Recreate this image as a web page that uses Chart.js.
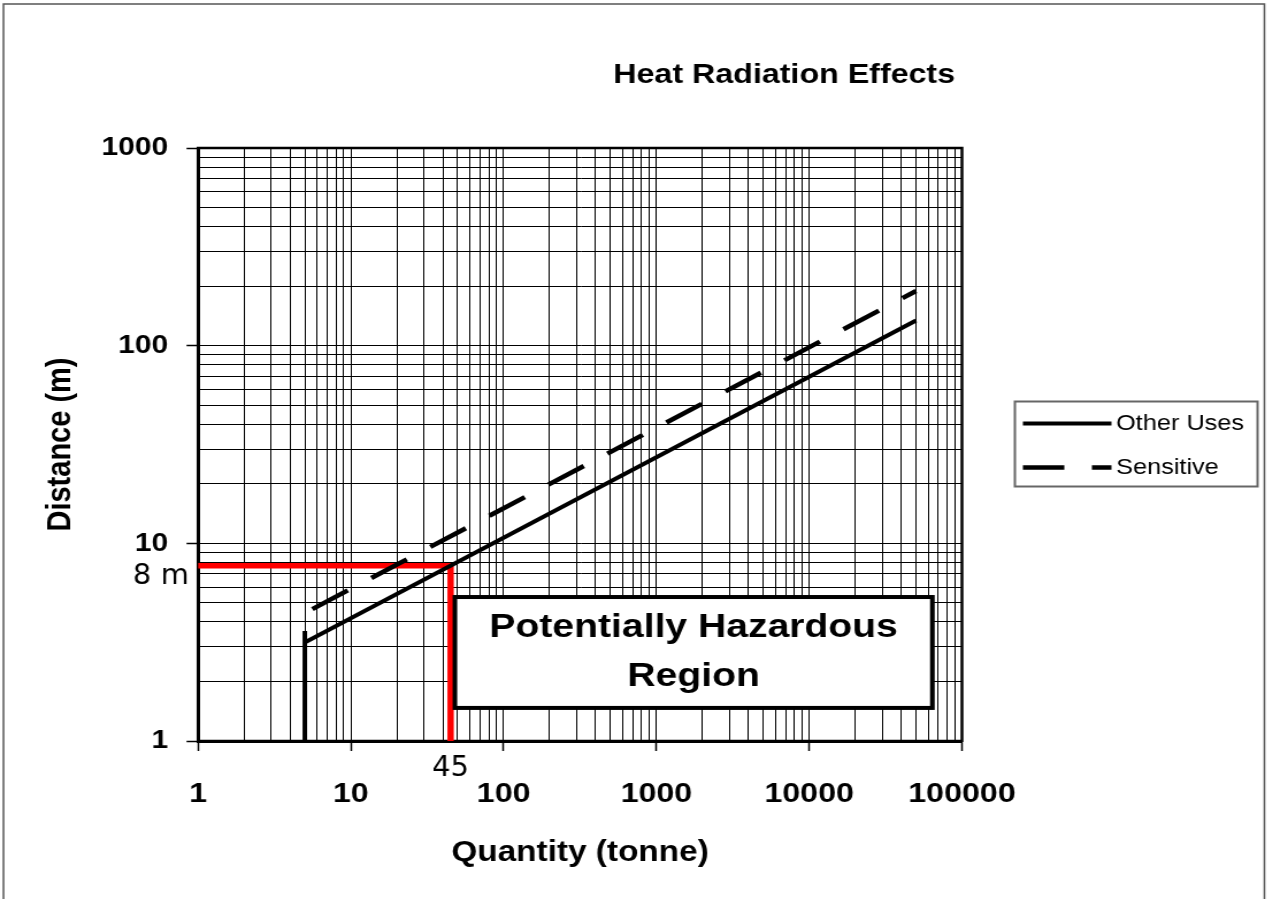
<!DOCTYPE html>
<html>
<head>
<meta charset="utf-8">
<title>Heat Radiation Effects</title>
<script src="https://cdn.jsdelivr.net/npm/chart.js@4/dist/chart.umd.min.js"></script>
<style>
  html, body { margin: 0; padding: 0; background: #fff; overflow: hidden; }
  /* the original picture is stretched sideways, so the chart is drawn narrow and widened */
  #wrap { width: 1102px; height: 899px; transform: scaleX(1.15); transform-origin: 0 0; }
</style>
</head>
<body>
<div id="wrap"><canvas id="heatChart"></canvas></div>
<script>
const S = 1.15; // horizontal stretch, same as the css above

// Chart text
const chartTitle = 'Heat Radiation Effects';
const xAxisTitle = 'Quantity (tonne)';
const yAxisTitle = 'Distance (m)';

// Axis ticks (log scales, labelled at each decade)
const xDecades = [1, 10, 100, 1000, 10000, 100000];
const yDecades = [1, 10, 100, 1000];
const minorSteps = [1, 2, 3, 4, 5, 6, 7, 8, 9];

// Series (quantity in tonne, distance in m)
const otherUsesX = [5, 5, 5, 50000];
const otherUsesY = [1, 3.6, 3.15, 134];
const sensitiveX = [5.6, 50000];
const sensitiveY = [4.65, 189];

// Red guide: 45 tonne -> 8 m
const guideX = [1, 45, 45];
const guideY = [7.7, 7.7, 1];
const guideLabels = ['8 m', '45'];

// "Potentially Hazardous Region" box, in axis units
const hazardText = ['Potentially Hazardous', 'Region'];
const hazardX = [48, 64000];
const hazardY = [1.47, 5.35];

const ARIAL = '"Liberation Sans", Arial, sans-serif';

function toPoints(xs, ys) {
    return xs.map((x, i) => ({ x: x, y: ys[i] }));
}

// every 1..9 step inside each decade, for the grid
function gridValues(decades) {
    const vals = [];
    decades.forEach((d, i) => {
        if (i === decades.length - 1) {
            vals.push(d);
            return;
        }
        minorSteps.forEach(m => vals.push(m * d));
    });
    return vals;
}

const decorations = {
    id: 'decorations',
    beforeDatasetsDraw(chart) {
        const { ctx, chartArea: a } = chart;
        ctx.save();
        ctx.strokeStyle = '#000';
        ctx.lineWidth = 2.5;
        ctx.strokeRect(a.left, a.top, a.right - a.left, a.bottom - a.top);
        ctx.restore();
    },
    afterDatasetsDraw(chart) {
        const { ctx, scales: { x, y } } = chart;
        const l = x.getPixelForValue(hazardX[0]), r = x.getPixelForValue(hazardX[1]);
        const t = y.getPixelForValue(hazardY[1]), b = y.getPixelForValue(hazardY[0]);

        ctx.save();
        ctx.fillStyle = '#fff';
        ctx.fillRect(l, t, r - l, b - t);
        ctx.lineWidth = 4;
        ctx.strokeStyle = '#000';
        ctx.strokeRect(l, t, r - l, b - t);

        ctx.fillStyle = '#000';
        ctx.font = 'bold 34px ' + ARIAL;
        ctx.textAlign = 'center';
        ctx.textBaseline = 'alphabetic';
        ctx.fillText(hazardText[0], (l + r) / 2, t + 40);
        ctx.fillText(hazardText[1], (l + r) / 2, t + 89);

        // the guide labels were added later, not stretched
        ctx.scale(1 / S, 1);
        ctx.font = '29px "DejaVu Sans", sans-serif';
        ctx.textAlign = 'right';
        ctx.fillText(guideLabels[0], (x.left - 8) * S, y.getPixelForValue(guideY[0]) + 18);
        ctx.textAlign = 'center';
        ctx.fillText(guideLabels[1], x.getPixelForValue(guideX[1]) * S, y.bottom + 35);
        ctx.restore();
    },
    afterDraw(chart) {
        const { ctx, chartArea: a } = chart;
        ctx.save();

        // outer frame (no bottom edge in the picture)
        ctx.strokeStyle = '#555';
        ctx.lineWidth = 1.5;
        ctx.beginPath();
        ctx.moveTo(3, 960);
        ctx.lineTo(3, 4);
        ctx.lineTo(1099.5, 4);
        ctx.lineTo(1099.5, 960);
        ctx.stroke();

        // title
        ctx.fillStyle = '#000';
        ctx.font = 'bold 28px ' + ARIAL;
        ctx.textAlign = 'right';
        ctx.textBaseline = 'alphabetic';
        ctx.fillText(chartTitle, a.right - 6, 83);

        // legend box
        const lx = a.right + 46, ly = (a.top + a.bottom) / 2 - 43;
        ctx.strokeStyle = '#666';
        ctx.lineWidth = 2;
        ctx.strokeRect(lx, ly, 211, 85);

        ctx.font = '22px ' + ARIAL;
        ctx.textAlign = 'left';
        ctx.textBaseline = 'middle';
        const shown = chart.data.datasets.filter(ds => ds.label);
        shown.forEach((ds, i) => {
            const ry = ly + 22 + i * 44;
            ctx.strokeStyle = ds.borderColor;
            ctx.lineWidth = ds.borderWidth;
            ctx.setLineDash(ds.borderDash || []);
            ctx.beginPath();
            ctx.moveTo(lx + 7, ry);
            ctx.lineTo(lx + 84, ry);
            ctx.stroke();
            ctx.setLineDash([]);
            ctx.fillText(ds.label, lx + 88, ry);
        });
        ctx.restore();
    }
};

function axis(decades, extra) {
    return Object.assign({
        type: 'logarithmic',
        min: decades[0],
        max: decades[decades.length - 1],
        afterBuildTicks: s => { s.ticks = gridValues(decades).map(v => ({ value: v })); },
        grid: {
            color: '#000',
            lineWidth: 1,
            tickLength: 10,
            tickWidth: 1.5,
            tickColor: c => (c.tick && decades.includes(c.tick.value)) ? '#000' : 'rgba(0,0,0,0)'
        },
        border: { color: '#000', width: 3 }
    }, extra);
}

const ctx = document.getElementById('heatChart').getContext('2d');

new Chart(ctx, {
    type: 'scatter',
    data: {
        datasets: [
            {
                label: 'Other Uses',
                data: toPoints(otherUsesX, otherUsesY),
                showLine: true,
                borderColor: '#000',
                borderWidth: 4,
                pointRadius: 0
            },
            {
                label: 'Sensitive',
                data: toPoints(sensitiveX, sensitiveY),
                showLine: true,
                borderColor: '#000',
                borderWidth: 4.5,
                borderDash: [36, 24],
                pointRadius: 0
            },
            {
                label: '',
                data: toPoints(guideX, guideY),
                showLine: true,
                borderColor: '#ff0000',
                borderWidth: 5.5,
                pointRadius: 0
            }
        ]
    },
    options: {
        responsive: true,
        maintainAspectRatio: false,
        animation: false,
        layout: { padding: { top: 148, right: 265.5, bottom: 0, left: 0 } },
        plugins: {
            legend: { display: false },
            title: { display: false },
            tooltip: { enabled: false }
        },
        scales: {
            x: axis(xDecades, {
                position: 'bottom',
                afterFit: s => { s.height = 158; },
                ticks: {
                    autoSkip: false,
                    maxRotation: 0,
                    padding: 26,
                    color: '#000',
                    font: { family: ARIAL, size: 28, weight: 'bold' },
                    callback: v => xDecades.includes(v) ? String(v) : ''
                },
                title: {
                    display: true,
                    text: xAxisTitle,
                    color: '#000',
                    font: { family: ARIAL, size: 29, weight: 'bold' },
                    padding: { top: 0, bottom: 29 }
                }
            }),
            y: axis(yDecades, {
                position: 'left',
                afterFit: s => { s.width = 172.2; },
                ticks: {
                    autoSkip: false,
                    padding: 16,
                    color: '#000',
                    font: { family: ARIAL, size: 26, weight: 'bold' },
                    callback: v => yDecades.includes(v) ? String(v) : ''
                },
                title: {
                    display: true,
                    text: yAxisTitle,
                    color: '#000',
                    font: { family: ARIAL, size: 29, weight: 'bold' },
                    padding: { top: 36, bottom: 0 }
                }
            })
        }
    },
    plugins: [decorations]
});
</script>
</body>
</html>
